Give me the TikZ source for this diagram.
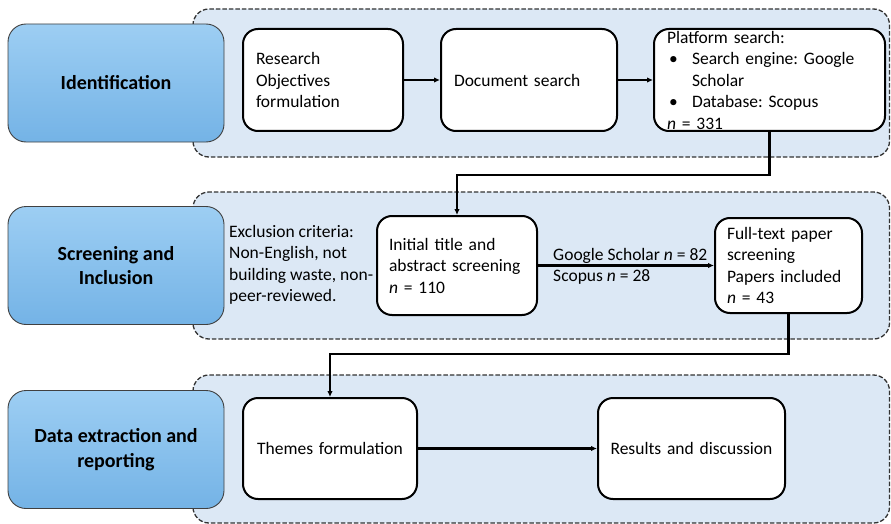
\documentclass[tikz,border=0pt]{standalone}
\usepackage{fontspec}
\setmainfont{Carlito}
\usetikzlibrary{arrows.meta}
\definecolor{panelfill}{HTML}{DCE8F5}
\definecolor{bluetop}{HTML}{9DCEF3}
\definecolor{bluebot}{HTML}{74B3E6}
\definecolor{edgegray}{HTML}{404040}
\frenchspacing
\begin{document}
\begin{tikzpicture}[x=1pt,y=-1pt,
  panel/.style={draw=black!80, fill=panelfill, dash pattern=on 4.5pt off 2pt, line width=1.3pt, rounded corners=16pt},
  phase/.style={draw=edgegray, line width=0.9pt, rounded corners=18pt, top color=bluetop, bottom color=bluebot, minimum width=216pt, minimum height=118pt, align=center, font=\fontsize{20}{24.5}\selectfont\bfseries, inner sep=0pt},
  wbox/.style={draw=black, fill=white, line width=2pt, rounded corners=15pt, font=\fontsize{17.5}{21.5}\selectfont, inner xsep=13pt, inner ysep=0pt},
  conn/.style={line width=2.3pt, -{Latex[length=6pt,width=5.5pt]}},
  lbl/.style={font=\fontsize{17.5}{21.5}\selectfont, inner sep=0pt}
]
\useasboundingbox (0,0) rectangle (891,524);
% panels
\draw[panel] (193,9) rectangle (889.5,157);
\draw[panel] (193,192) rectangle (889.5,339);
\draw[panel] (193,375) rectangle (889.5,523);
% phase boxes
\node[phase] (p1) at (116,83) {Identification};
\node[phase] (p2) at (116,265.5) {Screening and\\Inclusion};
\node[phase] (p3) at (116,449.5) {Data extraction and\\reporting};
% row 1
\node[wbox, minimum width=160pt, minimum height=102pt, text width=134pt, align=left] (res) at (323,80) {Research\\Objectives\\formulation};
\node[wbox, minimum width=176pt, minimum height=102pt, text width=150pt, align=left] (doc) at (529,80) {Document search};
\node[wbox, minimum width=231pt, minimum height=102pt, text width=205pt, align=left] (plat) at (769.5,80) {Platform search:\\
\hspace*{2pt}\makebox[23pt][l]{\textbullet}Search engine: Google\\
\hspace*{25pt}Scholar\\
\hspace*{2pt}\makebox[23pt][l]{\textbullet}Database: Scopus\\
\textit{n} = 331};
% row 2
\node[lbl, anchor=west, align=left] (excl) at (229,265) {Exclusion criteria:\\Non-English, not\\building waste, non-\\peer-reviewed.};
\node[wbox, minimum width=160pt, minimum height=99pt, text width=136pt, inner xsep=12pt, align=left] (init) at (457,265.5) {Initial title and\\abstract screening\\\textit{n} = 110};
\node[wbox, minimum width=147pt, minimum height=95pt, text width=123pt, inner xsep=12pt, align=left] (full) at (788.5,265.5) {Full-text paper\\screening\\Papers included\\\textit{n} = 43};
% row 3
\node[wbox, minimum width=174pt, minimum height=101pt, text width=164pt, inner xsep=5pt, align=center] (themes) at (330,448.5) {Themes formulation};
\node[wbox, minimum width=187pt, minimum height=101pt, text width=177pt, inner xsep=5pt, align=center] (results) at (691.5,448.5) {Results and discussion};
% connectors
\draw[conn] (res) -- (doc);
\draw[conn] (doc) -- (plat);
\draw[conn] (plat.south) -- ++(0,43) -| (init.north);
\draw[conn] (init) -- node[lbl, pos=0.08, anchor=south west, yshift=1pt] (gs) {Google Scholar \textit{n} = 82} node[lbl, pos=0.08, anchor=north west, yshift=-3pt] (sc) {Scopus \textit{n} = 28} (full);
\draw[conn] (full.south) -- ++(0,40) -| (themes.north);
\draw[conn] (themes) -- (results);
\end{tikzpicture}
\end{document}
